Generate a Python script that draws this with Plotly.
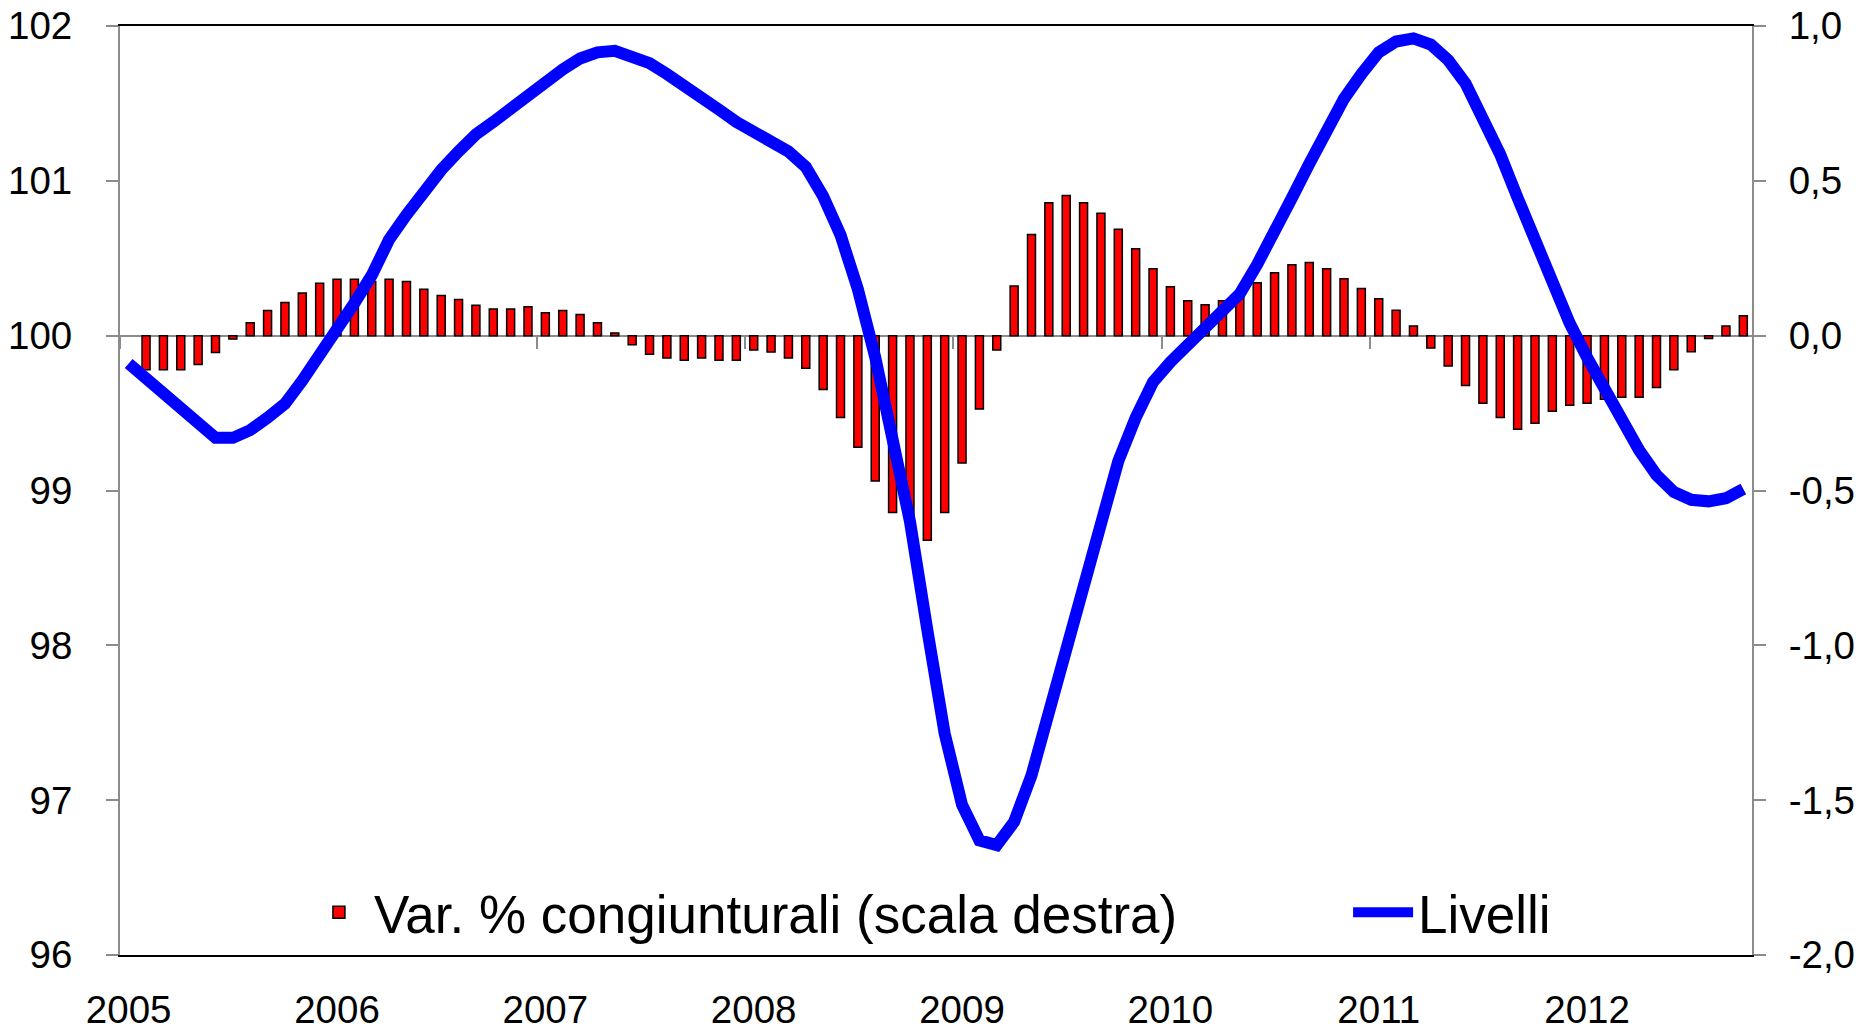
import plotly.graph_objects as go

# monthly observations, Jan 2005 .. Oct 2012
months = list(range(94))
year_labels = ['2005', '2006', '2007', '2008', '2009', '2010', '2011', '2012']
year_ticks = [0, 12, 24, 36, 48, 60, 72, 84]
year_bounds = [-0.5, 11.5, 23.5, 35.5, 47.5, 59.5, 71.5, 83.5]

# percentage change on previous month (right scale); first month not available
var_congiunturali = [
    None, -0.11, -0.11, -0.11, -0.093, -0.054, -0.011, 0.042, 0.081, 0.107, 0.138, 0.169,
    0.182, 0.182, 0.175, 0.182, 0.175, 0.150, 0.130, 0.117, 0.098, 0.086, 0.086, 0.093,
    0.074, 0.081, 0.068, 0.042, 0.009, -0.029, -0.060, -0.072, -0.079, -0.072, -0.079, -0.079,
    -0.046, -0.053, -0.072, -0.105, -0.174, -0.264, -0.360, -0.469, -0.571, -0.62, -0.661, -0.571,
    -0.411, -0.237, -0.046, 0.160, 0.327, 0.429, 0.453, 0.429, 0.395, 0.344, 0.281, 0.216,
    0.158, 0.113, 0.100, 0.113, 0.14, 0.171, 0.203, 0.229, 0.236, 0.216, 0.184, 0.152,
    0.119, 0.082, 0.031, -0.040, -0.098, -0.161, -0.218, -0.264, -0.302, -0.283, -0.244, -0.225,
    -0.218, -0.205, -0.199, -0.199, -0.167, -0.110, -0.052, -0.009, 0.031, 0.064,
]

# index levels (left scale)
livelli = [
    99.82, 99.72, 99.62, 99.52, 99.42, 99.34, 99.34, 99.39, 99.47, 99.56, 99.71, 99.87,
    100.05, 100.21, 100.39, 100.62, 100.78, 100.93, 101.07, 101.19, 101.30, 101.38, 101.47, 101.54,
    101.63, 101.72, 101.79, 101.83, 101.84, 101.81, 101.76, 101.69, 101.62, 101.55, 101.46, 101.38,
    101.32, 101.27, 101.19, 101.09, 100.90, 100.65, 100.30, 99.86, 99.33, 98.80, 98.10, 97.43,
    96.97, 96.74, 96.71, 96.86, 97.16, 97.57, 97.99, 98.41, 98.84, 99.19, 99.47, 99.70,
    99.83, 99.94, 100.05, 100.14, 100.27, 100.46, 100.66, 100.89, 101.11, 101.34, 101.53, 101.69,
    101.83, 101.90, 101.92, 101.88, 101.78, 101.63, 101.41, 101.17, 100.89, 100.62, 100.34, 100.08,
    99.86, 99.66, 99.47, 99.26, 99.10, 98.99, 98.94, 98.93, 98.95, 99.01,
]

right_ticks = [-2.0, -1.5, -1.0, -0.5, 0.0, 0.5, 1.0]
right_labels = ['-2,0', '-1,5', '-1,0', '-0,5', '0,0', '0,5', '1,0']
left_ticks = [96, 97, 98, 99, 100, 101, 102]

GREY = '#8c8c8c'
FONT = 'Liberation Sans, Arial, sans-serif'

fig = go.Figure()
fig.add_trace(go.Bar(
    x=months, y=var_congiunturali, xaxis='x', yaxis='y',
    name='Var. % congiunturali (scala destra)', legend='legend',
    marker=dict(color='#ff0000', line=dict(color='black', width=1.5)),
))
fig.add_trace(go.Scatter(
    x=months, y=livelli, xaxis='x2', yaxis='y2', mode='lines',
    name='Livelli', legend='legend2',
    line=dict(color='#0000ff', width=12),
))

legend_style = dict(
    orientation='h', xanchor='left', y=0.046, yanchor='middle',
    font=dict(size=53), bgcolor='rgba(0,0,0,0)', itemwidth=60,
)

fig.update_layout(
    width=1860, height=1032,
    margin=dict(l=120, r=108, t=26, b=77, autoexpand=False),
    paper_bgcolor='white', plot_bgcolor='white',
    font=dict(family=FONT, size=38.5, color='black'),
    bargap=0.54,
    showlegend=True,
    legend=dict(x=0.1127, **legend_style),
    legend2=dict(x=0.7525, **legend_style),
    xaxis=dict(
        domain=[0, 1], range=[-0.5, 93.5], anchor='y',
        tickmode='array', tickvals=year_ticks, ticktext=year_labels,
        ticks='', showgrid=False, zeroline=False,
        showline=True, linecolor='black', linewidth=2, mirror=True,
        ticklabelstandoff=20,
    ),
    xaxis2=dict(
        overlaying='x', anchor='free', position=2 / 3, range=[-0.5, 93.5],
        tickmode='array', tickvals=year_bounds, showticklabels=False,
        ticks='outside', ticklen=12, tickwidth=2, tickcolor=GREY,
        showline=True, linecolor=GREY, linewidth=2,
        showgrid=False, zeroline=False, layer='below traces',
    ),
    yaxis=dict(
        side='right', anchor='x', range=[-2, 1],
        tickmode='array', tickvals=right_ticks, ticktext=right_labels,
        ticks='outside', ticklen=12, tickwidth=2, tickcolor=GREY,
        showline=True, linecolor=GREY, linewidth=2,
        showgrid=False, zeroline=False, ticklabelstandoff=15,
    ),
    yaxis2=dict(
        overlaying='y', side='left', anchor='x2', range=[96, 102],
        tickmode='array', tickvals=left_ticks,
        ticks='outside', ticklen=12, tickwidth=2, tickcolor=GREY,
        showline=True, linecolor=GREY, linewidth=2,
        showgrid=False, zeroline=False, ticklabelstandoff=26,
    ),
)

fig.write_html(
    'out.html',
    config={'displayModeBar': False},
    post_script="document.body.style.margin='0';",
)
